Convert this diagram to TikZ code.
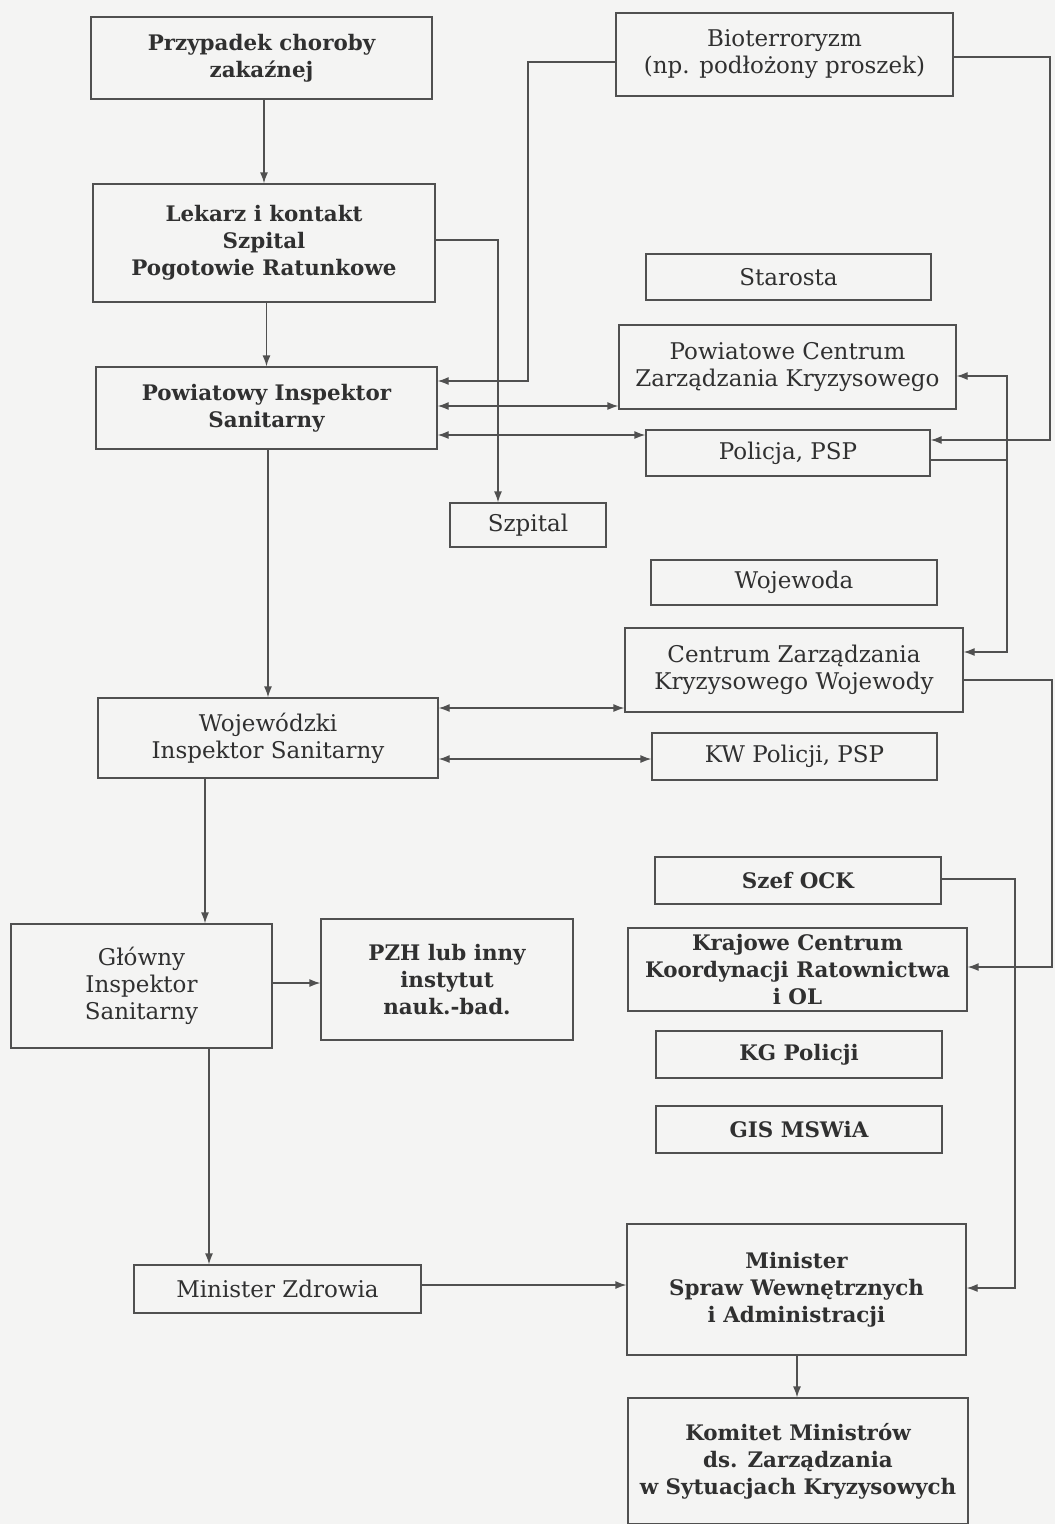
\documentclass[tikz,border=0pt]{standalone}
\usepackage{fontspec}
\setmainfont{DejaVu Serif}
\usetikzlibrary{arrows.meta}
\definecolor{paper}{RGB}{244,244,243}
\definecolor{ink}{RGB}{48,48,48}
\definecolor{rule}{RGB}{80,80,80}
\tikzset{
  box/.style={draw=rule, line width=1.3pt, rectangle, inner sep=0pt, align=center,
    text=ink, font=\fontsize{23}{27}\selectfont},
  boxb/.style={box, font=\fontsize{21.4}{27}\selectfont\bfseries},
  link/.style={draw=rule, line width=1.3pt},
  arr/.style={link, -{Latex[length=11pt,width=8pt]}},
  darr/.style={link, {Latex[length=11pt,width=8pt]}-{Latex[length=11pt,width=8pt]}},
}
\begin{document}
\begin{tikzpicture}[x=1pt, y=-1pt]
\fill[paper] (0,0) rectangle (1055,1524);
\useasboundingbox (0,0) rectangle (1055,1524);

% left column: the sanitary inspection chain
\node[boxb, minimum width=341pt, minimum height=82pt] (przyp) at (261.5,58) {Przypadek choroby\\zakaźnej};
\node[boxb, minimum width=342pt, minimum height=118pt] (lekarz) at (264,243) {Lekarz i kontakt\\Szpital\\Pogotowie Ratunkowe};
\node[boxb, minimum width=341pt, minimum height=82pt] (pis) at (266.5,408) {Powiatowy Inspektor\\Sanitarny};
\node[box, minimum width=156pt, minimum height=44pt] (szpital) at (528,525) {Szpital};
\node[box, minimum width=340pt, minimum height=80pt] (wis) at (268,738) {Wojewódzki\\Inspektor Sanitarny};
\node[box, minimum width=261pt, minimum height=124pt] (gis) at (141.5,986) {Główny\\Inspektor\\Sanitarny};
\node[boxb, minimum width=252pt, minimum height=121pt] (pzh) at (447,979.5) {PZH lub inny\\instytut\\nauk.-bad.};
\node[box, minimum width=287pt, minimum height=48pt] (mz) at (277.5,1289) {Minister Zdrowia};

% right column: crisis management chain
\node[box, minimum width=337pt, minimum height=83pt] (bio) at (784.5,54.5) {Bioterroryzm\\(np. podłożony proszek)};
\node[box, minimum width=285pt, minimum height=46pt] (starosta) at (788.5,277) {Starosta};
\node[box, minimum width=337pt, minimum height=84pt] (pczk) at (787.5,367) {Powiatowe Centrum\\Zarządzania Kryzysowego};
\node[box, minimum width=284pt, minimum height=46pt] (policja) at (788,453) {Policja, PSP};
\node[box, minimum width=286pt, minimum height=45pt] (wojewoda) at (794,582.5) {Wojewoda};
\node[box, minimum width=338pt, minimum height=84pt] (czkw) at (794,670) {Centrum Zarządzania\\Kryzysowego Wojewody};
\node[box, minimum width=285pt, minimum height=47pt] (kw) at (794.5,756.5) {KW Policji, PSP};
\node[boxb, minimum width=286pt, minimum height=47pt] (ock) at (798,880.5) {Szef OCK};
\node[boxb, minimum width=339pt, minimum height=83pt] (kckr) at (797.5,969.5) {Krajowe Centrum\\Koordynacji Ratownictwa\\i OL};
\node[boxb, minimum width=286pt, minimum height=47pt] (kg) at (799,1054.5) {KG Policji};
\node[boxb, minimum width=286pt, minimum height=47pt] (gismswia) at (799,1129.5) {GIS MSWiA};
\node[boxb, minimum width=339pt, minimum height=131pt] (mswia) at (796.5,1289.5) {Minister\\Spraw Wewnętrznych\\i Administracji};
\node[boxb, minimum width=340pt, minimum height=126pt] (komitet) at (798,1461) {Komitet Ministrów\\ds. Zarządzania\\w Sytuacjach Kryzysowych};

% routing points
\coordinate (c205) at (205,0);
\coordinate (c209) at (209,0);
\coordinate (c498) at (498,0);
\coordinate (b1) at (528,62);
\coordinate (b2) at (528,381);
\coordinate (r1) at (1050,57);
\coordinate (r2) at (1050,440);
\coordinate (p1) at (1007,460);
\coordinate (p2) at (1007,376);
\coordinate (p3) at (1007,652);
\coordinate (w1) at (1052,680);
\coordinate (w2) at (1052,967);
\coordinate (o1) at (1015,879);
\coordinate (o2) at (1015,1288);
\coordinate (h240) at (0,240);
\coordinate (h408) at (0,406);
\coordinate (h435) at (0,435);
\coordinate (h708) at (0,708);
\coordinate (h759) at (0,759);
\coordinate (h983) at (0,983);
\coordinate (h1285) at (0,1285);
\coordinate (c797) at (797,0);

% vertical flow on the left
\draw[arr] (przyp.south -| lekarz) -- (lekarz.north);
\draw[arr] (lekarz.south -| pis) -- (pis.north);
\draw[arr] (pis.south -| wis) -- (wis.north);
\draw[arr] (wis.south -| c205) -- (gis.north -| c205);
\draw[arr] (gis.south -| c209) -- (mz.north -| c209);
\draw[arr] (lekarz.east |- h240) -| (szpital.north -| c498);
\draw[arr] (gis.east |- h983) -- (pzh.west |- h983);

% bioterrorism alerts
\draw[arr] (bio.west |- b1) -- (b1) -- (b2) -- (pis.east |- b2);
\draw[arr] (bio.east |- r1) -- (r1) -- (r2) -- (policja.east |- r2);

% two-way links with the crisis centres and services
\draw[darr] (pis.east |- h408) -- (pczk.west |- h408);
\draw[darr] (pis.east |- h435) -- (policja.west |- h435);
\draw[darr] (wis.east |- h708) -- (czkw.west |- h708);
\draw[darr] (wis.east |- h759) -- (kw.west |- h759);

% police reports up to the county and voivodeship centres
\draw[link] (policja.east |- p1) -- (p1);
\draw[arr] (p1) -- (p2) -- (pczk.east |- p2);
\draw[arr] (p1) -- (p3) -- (czkw.east |- p3);

% national level
\draw[arr] (czkw.east |- w1) -- (w1) -- (w2) -- (kckr.east |- w2);
\draw[arr] (ock.east |- o1) -- (o1) -- (o2) -- (mswia.east |- o2);
\draw[arr] (mz.east |- h1285) -- (mswia.west |- h1285);
\draw[arr] (mswia.south -| c797) -- (komitet.north -| c797);
\end{tikzpicture}
\end{document}
